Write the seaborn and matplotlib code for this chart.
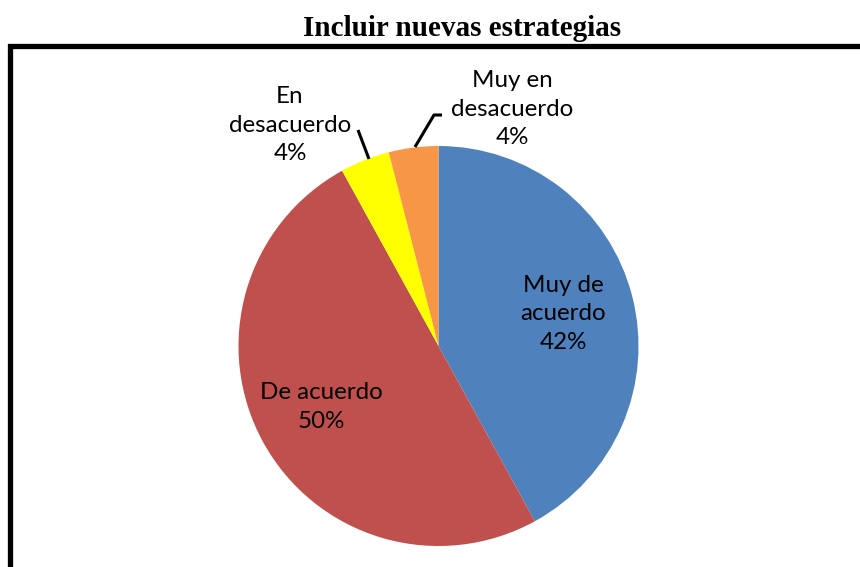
import matplotlib
matplotlib.use("Agg")
import matplotlib.pyplot as plt
import seaborn as sns
from matplotlib.patches import Rectangle

sns.set_theme(style="white")
plt.rcParams['font.family'] = ['Lato', 'DejaVu Sans']

# Data
categories = ["Muy de\nacuerdo", "De acuerdo", "En\ndesacuerdo", "Muy en\ndesacuerdo"]
values = [42, 50, 4, 4]
colors = ["#4F81BD", "#C0504D", "#FFFF00", "#F79646"]
title = "Incluir nuevas estrategias"

W, H = 860, 567
fig = plt.figure(figsize=(W / 100, H / 100), dpi=100)
ax = fig.add_axes([0, 0, 1, 1])

cx, cy, r = 438.5, H - 346, 200
ax.pie(values, colors=colors, startangle=90, counterclock=False,
       center=(cx, cy), radius=r, frame=True,
       wedgeprops=dict(linewidth=0))
ax.set_xlim(0, W)
ax.set_ylim(0, H)
ax.set_aspect("equal")
ax.axis("off")

# label positions (pixel layout)
label_pos = [(563, 314), (321, 407), (290, 125), (512, 109)]
for cat, v, (x, y) in zip(categories, values, label_pos):
    ax.text(x, H - y, f"{cat}\n{v}%", ha="center", va="center",
            fontsize=17.4, color="black", linespacing=1.45)

# leader lines
ax.plot([358, 369], [H - 130, H - 159], color="black", lw=2.2, solid_capstyle="butt")
ax.plot([442, 434, 415], [H - 115, H - 115, H - 147], color="black", lw=2.2, solid_capstyle="butt")

# border box extending beyond figure
fig.patches.append(Rectangle((9.5 / W, -0.1), 1.2, (H - 45.5) / H + 0.1,
                             transform=fig.transFigure, fill=False,
                             edgecolor="black", lw=3.8, clip_on=False))

fig.text(462.5 / W, 1 - 28 / H, title, ha="center", va="center", color="black",
         fontsize=21, fontweight="bold", family=["Liberation Serif", "DejaVu Serif"])

fig.savefig("out.png", dpi=100)
